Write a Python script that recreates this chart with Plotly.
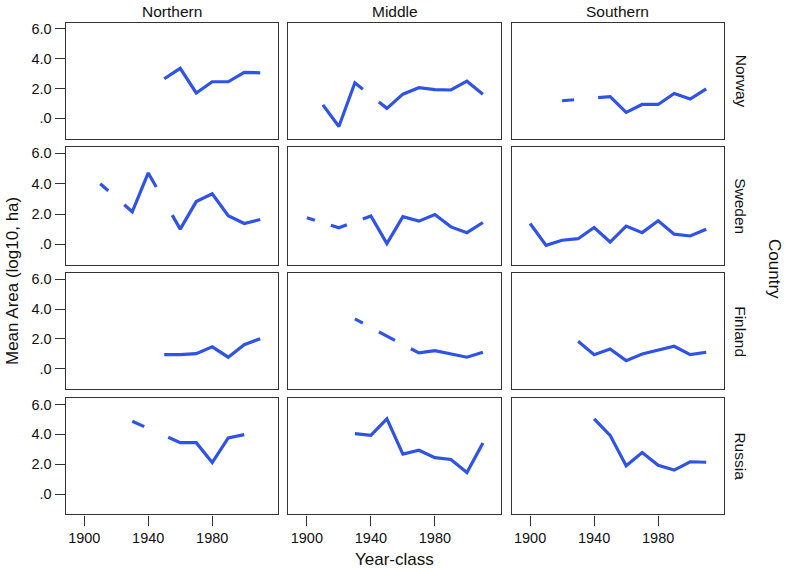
import plotly.graph_objects as go

# ---------------- data ----------------
years = [1900, 1910, 1920, 1930, 1940, 1950, 1960, 1970, 1980, 1990, 2000, 2010]
regions = ["Northern", "Middle", "Southern"]
countries = ["Norway", "Sweden", "Finland", "Russia"]

norway_northern = [None, None, None, None, None, 2.65, 3.35, 1.70, 2.45, 2.45, 3.08, 3.05]
norway_middle = [None, 0.90, -0.55, 2.38, None, 0.67, 1.62, 2.05, 1.93, 1.90, 2.49, 1.62]
norway_southern = [None, None, 1.18, None, None, 1.45, 0.40, 0.93, 0.93, 1.67, 1.29, 1.98]

sweden_northern = [None, 4.00, None, 2.15, 4.71, None, 1.00, 2.82, 3.33, 1.89, 1.37, 1.64]
sweden_middle = [1.75, None, 1.09, None, 1.87, 0.05, 1.82, 1.53, 1.97, 1.15, 0.77, 1.44]
sweden_southern = [1.37, -0.07, 0.27, 0.37, 1.11, 0.15, 1.20, 0.77, 1.55, 0.67, 0.55, 1.00]

finland_northern = [None, None, None, None, None, 0.95, 0.95, 1.02, 1.47, 0.78, 1.62, 2.02]
finland_middle = [None, None, None, 3.35, None, 2.18, None, 1.07, 1.22, 1.00, 0.78, 1.11]
finland_southern = [None, None, None, 1.84, 0.95, 1.33, 0.55, 1.00, 1.24, 1.51, 0.95, 1.11]

russia_northern = [None, None, None, 4.87, None, None, 3.44, 3.44, 2.11, 3.76, 3.98, None]
russia_middle = [None, None, None, 4.04, 3.93, 5.04, 2.67, 2.93, 2.44, 2.31, 1.44, 3.42]
russia_southern = [None, None, None, None, 5.04, 3.93, 1.89, 2.78, 1.93, 1.60, 2.16, 2.13]

series = [
    [norway_northern, norway_middle, norway_southern],
    [sweden_northern, sweden_middle, sweden_southern],
    [finland_northern, finland_middle, finland_southern],
    [russia_northern, russia_middle, russia_southern],
]

y_tick_vals = [0, 2, 4, 6]
y_tick_text = [".0", "2.0", "4.0", "6.0"]
x_tick_vals = [1900, 1940, 1980]

# ---------------- styling ----------------
W, H = 787, 570
FONT = "Liberation Sans, Arial, Helvetica, sans-serif"
TXT = "#111111"
LINE_COLOR = "#2f53e6"
FRAME = "#333333"
col_px = [(65.7, 278.3), (288.3, 501.0), (511.5, 724.3)]
row_px = [(20.7, 137.3), (145.7, 264.0), (272.0, 388.7), (397.7, 514.3)]
X_RANGE = [1888.4, 2021.3]
Y_RANGE = [-1.37, 6.41]


def wing_path(xs, ys, frac=0.25):
    """Line with 'wings' across missing values (gap in the middle of the
    span between two valid observations), as in the source chart."""
    idx = [i for i, v in enumerate(ys) if v is not None]
    px, py = [], []
    for k in range(len(idx) - 1):
        i, j = idx[k], idx[k + 1]
        x0, y0, x1, y1 = xs[i], ys[i], xs[j], ys[j]
        if not px or px[-1] is None:
            px.append(x0); py.append(y0)
        if j == i + 1:
            px.append(x1); py.append(y1)
        else:
            px.append(x0 + frac * (x1 - x0)); py.append(y0 + frac * (y1 - y0))
            px.append(None); py.append(None)
            px.append(x1 - frac * (x1 - x0)); py.append(y1 - frac * (y1 - y0))
            px.append(x1); py.append(y1)
    return px, py


fig = go.Figure()
layout = dict(
    width=W, height=H, margin=dict(l=0, r=0, t=0, b=0),
    paper_bgcolor="white", plot_bgcolor="white", showlegend=False,
    font=dict(family=FONT, size=14, color=TXT),
)

annotations = []
for r in range(4):
    for c in range(3):
        n = r * 3 + c + 1
        xa = "xaxis" if n == 1 else f"xaxis{n}"
        ya = "yaxis" if n == 1 else f"yaxis{n}"
        xr = "x" if n == 1 else f"x{n}"
        yr = "y" if n == 1 else f"y{n}"
        x0, x1 = col_px[c]
        t, b = row_px[r]
        px, py = wing_path(years, series[r][c])
        fig.add_trace(go.Scatter(
            x=px, y=py, xaxis=xr, yaxis=yr, mode="lines",
            line=dict(color=LINE_COLOR, width=3.2), connectgaps=False,
            hoverinfo="skip"))
        bottom = (r == 3)
        left = (c == 0)
        layout[xa] = dict(
            domain=[x0 / W, x1 / W], anchor=yr, range=X_RANGE,
            showgrid=False, zeroline=False, showline=True, mirror=True,
            linecolor=FRAME, linewidth=1.4,
            tickvals=x_tick_vals if bottom else [],
            ticks="outside" if bottom else "", ticklen=10, tickwidth=1.4,
            tickcolor=FRAME, showticklabels=bottom,
            tickfont=dict(size=14.5, family=FONT, color=TXT),
        )
        layout[ya] = dict(
            domain=[1 - b / H, 1 - t / H], anchor=xr, range=Y_RANGE,
            showgrid=False, zeroline=False, showline=True, mirror=True,
            linecolor=FRAME, linewidth=1.4,
            tickvals=y_tick_vals if left else [],
            ticktext=y_tick_text if left else [],
            ticks="outside" if left else "", ticklen=10, tickwidth=1.4,
            tickcolor=FRAME, showticklabels=left,
            tickfont=dict(size=14.5, family=FONT, color=TXT),
        )

# column titles
for c, name in enumerate(regions):
    annotations.append(dict(
        text=name, x=(col_px[c][0] + col_px[c][1]) / 2 / W, y=1 - 10 / H,
        xref="paper", yref="paper", showarrow=False,
        font=dict(size=15.5, family=FONT, color=TXT),
        xanchor="center", yanchor="middle"))
# row titles
for r, name in enumerate(countries):
    annotations.append(dict(
        text=name, x=741 / W, y=1 - (row_px[r][0] + row_px[r][1]) / 2 / H,
        xref="paper", yref="paper", showarrow=False, textangle=90,
        font=dict(size=15.5, family=FONT, color=TXT),
        xanchor="center", yanchor="middle"))
annotations.append(dict(
    text="Country", x=775 / W, y=1 - 268 / H, xref="paper", yref="paper",
    showarrow=False, textangle=90, font=dict(size=17, family=FONT, color=TXT),
    xanchor="center", yanchor="middle"))
annotations.append(dict(
    text="Mean Area (log10, ha)", x=12 / W, y=1 - 280 / H, xref="paper", yref="paper",
    showarrow=False, textangle=-90, font=dict(size=17, family=FONT, color=TXT),
    xanchor="center", yanchor="middle"))
annotations.append(dict(
    text="Year-class", x=395 / W, y=1 - 559 / H, xref="paper", yref="paper",
    showarrow=False, font=dict(size=17, family=FONT, color=TXT),
    xanchor="center", yanchor="middle"))

layout["annotations"] = annotations
fig.update_layout(**layout)
fig.write_html("out.html",
               config={"displayModeBar": False},
               post_script="document.body.style.margin='0px';document.body.style.padding='0px';")
